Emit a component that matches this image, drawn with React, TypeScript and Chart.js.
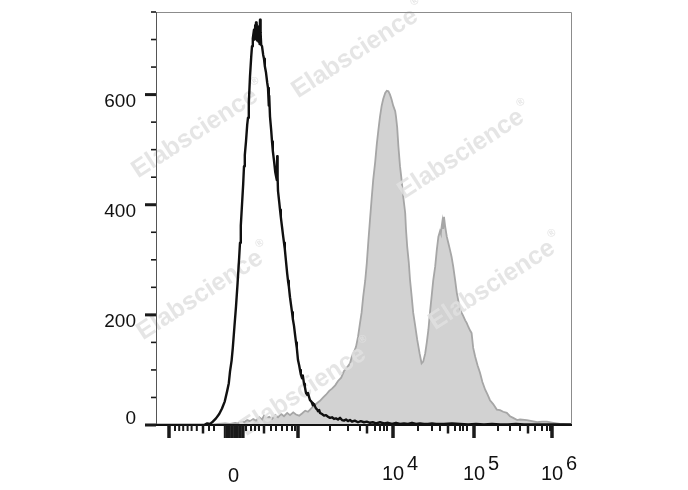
import { useEffect, useRef } from 'react';
import { Chart, registerables } from 'chart.js';

Chart.register(...registerables);

// Display channels (0..1040 across the plot) and event counts
const blackChannels = [0, 60, 120, 128, 135, 142, 150, 158, 165, 172, 178, 182, 185, 189, 192, 196, 200, 204, 208, 210, 212, 215, 218, 220, 222, 225, 228, 230, 232, 235, 238, 240, 242, 245, 247, 248, 249, 250, 251, 252, 253, 254, 255, 256, 257, 258, 259, 260, 261, 262, 263, 265, 268, 270, 272, 275, 278, 280, 282, 283, 285, 288, 290, 292, 295, 298, 300, 302, 303, 304, 305, 308, 310, 312, 315, 318, 320, 322, 325, 328, 330, 332, 335, 338, 340, 342, 345, 348, 350, 352, 355, 358, 360, 362, 365, 367, 370, 372, 375, 378, 380, 383, 385, 388, 390, 392, 395, 398, 400, 403, 405, 408, 410, 415, 420, 425, 430, 435, 440, 445, 450, 455, 460, 465, 470, 475, 480, 485, 490, 497, 505, 512, 520, 527, 535, 542, 550, 560, 570, 580, 590, 600, 610, 620, 630, 640, 650, 660, 670, 680, 690, 700, 720, 740, 760, 780, 800, 820, 840, 860, 880, 900, 920, 940, 960, 980, 1000, 1040];
const blackCounts = [0, 0, 0, 3, 2, 6, 12, 20, 30, 43, 62, 76, 97, 117, 140, 178, 215, 258, 305, 331, 362, 400, 438, 470, 490, 515, 545, 558, 585, 633, 668, 688, 702, 718, 700, 726, 705, 731, 708, 727, 698, 724, 703, 719, 696, 714, 692, 736, 700, 712, 690, 688, 672, 665, 652, 640, 622, 612, 580, 598, 560, 535, 515, 498, 480, 460, 452, 445, 488, 450, 425, 405, 391, 378, 360, 342, 331, 320, 297, 275, 262, 252, 232, 216, 205, 193, 180, 162, 150, 140, 118, 108, 100, 92, 85, 90, 75, 70, 58, 55, 58, 50, 45, 43, 40, 36, 38, 33, 30, 28, 25, 27, 22, 20, 17, 18, 15, 13, 14, 11, 12, 10, 13, 9, 8, 10, 7, 9, 6, 8, 5, 7, 5, 6, 4, 5, 3, 5, 3, 4, 2, 4, 2, 3, 2, 4, 2, 3, 2, 2, 3, 2, 2, 3, 2, 1, 2, 1, 2, 1, 1, 2, 1, 1, 1, 1, 1, 1];

const greyChannels = [0, 135, 155, 173, 185, 198, 205, 213, 220, 228, 235, 243, 250, 258, 265, 270, 275, 283, 290, 298, 305, 313, 320, 328, 335, 343, 350, 358, 365, 373, 380, 388, 395, 403, 410, 418, 425, 433, 440, 448, 455, 463, 470, 478, 485, 490, 495, 500, 505, 510, 514, 518, 523, 527, 531, 535, 539, 543, 548, 552, 556, 560, 564, 568, 573, 577, 581, 585, 589, 593, 598, 600, 603, 606, 610, 614, 618, 623, 625, 628, 632, 635, 639, 643, 648, 653, 659, 664, 668, 673, 677, 681, 685, 689, 693, 698, 702, 706, 710, 712, 714, 716, 718, 720, 723, 727, 731, 735, 739, 743, 748, 752, 756, 760, 764, 768, 773, 777, 781, 785, 789, 793, 798, 804, 810, 816, 823, 829, 835, 843, 852, 860, 868, 877, 885, 893, 903, 910, 927, 940, 953, 965, 977, 993, 1010, 1025, 1040];
const greyCounts = [0, 0, 2, 3, 2, 4, 3, 6, 5, 9, 7, 11, 8, 14, 10, 17, 12, 15, 11, 18, 14, 20, 16, 22, 18, 23, 19, 17, 21, 26, 24, 30, 35, 40, 44, 50, 55, 62, 66, 72, 80, 86, 98, 105, 112, 125, 133, 142, 160, 185, 204, 233, 262, 294, 335, 373, 410, 445, 478, 510, 536, 560, 579, 592, 603, 607, 606, 600, 591, 580, 570, 560, 540, 506, 470, 445, 415, 385, 355, 324, 295, 264, 235, 204, 180, 155, 130, 112, 115, 130, 150, 173, 205, 233, 262, 288, 318, 342, 352, 348, 360, 370, 356, 378, 360, 342, 330, 318, 305, 288, 262, 240, 225, 212, 204, 198, 190, 185, 178, 172, 167, 140, 124, 108, 95, 78, 64, 55, 45, 38, 28, 27, 24, 22, 16, 13, 9, 10, 9, 7, 5, 6, 6, 4, 2, 1, 0];

// Y axis ticks (counts)
const yMajorValues = [0, 200, 400, 600];
const yMajorLabels = ['0', '200', '400', '600'];
const yMinorValues = [50, 100, 150, 250, 300, 350, 450, 500, 550, 650, 700, 750];

// X axis ticks (display channels)
const xMajorChannels = [32.5, 355, 592.5, 795, 990];
const xMediumChannels = [117.5, 270, 527.5, 730, 930];
const xMinorChannels = [47.5, 58, 68, 79, 89, 102, 132.5, 145, 225, 237.5, 247.5, 257.5, 287.5, 300, 315, 327.5, 340, 347.5, 435, 480, 510, 547.5, 560, 570, 577.5, 655, 690, 710, 747.5, 760, 767.5, 777.5, 855, 885, 910, 947.5, 965, 977.5, 985];
const xDenseChannels = [172, 176, 180, 184, 188, 192, 196, 200, 204, 208, 212, 216, 219];
const xLabelChannels = [193.75, 592.5, 795, 990];
const xLabelBase = ['0', '10', '10', '10'];
const xLabelExp = ['', '4', '5', '6'];

const watermarkSpots = [
  [360, 50],
  [200, 130],
  [466, 151],
  [205, 292],
  [497, 282],
  [308, 388],
];

const FONT = '"Liberation Sans", Arial, Helvetica, sans-serif';

function drawWatermarks(chart: any) {
  const ctx = chart.ctx as CanvasRenderingContext2D;
  ctx.save();
  for (const [cx, cy] of watermarkSpots) {
    ctx.save();
    ctx.translate(cx, cy);
    ctx.rotate((-33 * Math.PI) / 180);
    ctx.fillStyle = 'rgba(224,224,224,0.85)';
    ctx.font = `bold 25px ${FONT}`;
    ctx.textAlign = 'center';
    ctx.textBaseline = 'middle';
    const w = ctx.measureText('Elabscience').width;
    ctx.fillText('Elabscience', -6, 0);
    ctx.font = `bold 11px ${FONT}`;
    ctx.textAlign = 'left';
    ctx.fillText('®', w / 2 - 4, -11);
    ctx.restore();
  }
  ctx.restore();
}

const flowAxesPlugin = {
  id: 'flowAxes',
  beforeDatasetDraw(chart: any, args: any) {
    if (args.index === 0) drawWatermarks(chart);
  },
  afterDatasetsDraw(chart: any) {
    const ctx = chart.ctx as CanvasRenderingContext2D;
    const { left, right, top, bottom } = chart.chartArea;
    const xs = chart.scales.x;
    const ys = chart.scales.y;
    ctx.save();
    // frame top/right
    ctx.strokeStyle = '#8c8c8c';
    ctx.lineWidth = 1;
    ctx.beginPath();
    ctx.moveTo(left, top + 0.5);
    ctx.lineTo(right - 0.5, top + 0.5);
    ctx.lineTo(right - 0.5, bottom);
    ctx.stroke();
    // y axis line
    ctx.strokeStyle = '#555';
    ctx.beginPath();
    ctx.moveTo(left + 0.5, top);
    ctx.lineTo(left + 0.5, bottom);
    ctx.stroke();
    // x axis line
    ctx.strokeStyle = '#111';
    ctx.lineWidth = 2.2;
    ctx.beginPath();
    ctx.moveTo(left, bottom);
    ctx.lineTo(right, bottom);
    ctx.stroke();

    // y ticks
    ctx.strokeStyle = '#1a1a1a';
    for (const v of yMinorValues) {
      const py = ys.getPixelForValue(v);
      ctx.lineWidth = 1.6;
      ctx.beginPath();
      ctx.moveTo(left - 5, py);
      ctx.lineTo(left, py);
      ctx.stroke();
    }
    for (const v of yMajorValues) {
      const py = ys.getPixelForValue(v);
      ctx.lineWidth = 3;
      ctx.beginPath();
      ctx.moveTo(left - 11, py);
      ctx.lineTo(left, py);
      ctx.stroke();
    }
    // x ticks
    const xTick = (ch: number, len: number, w: number) => {
      const px = xs.getPixelForValue(ch);
      ctx.lineWidth = w;
      ctx.beginPath();
      ctx.moveTo(px, bottom);
      ctx.lineTo(px, bottom + len);
      ctx.stroke();
    };
    xMinorChannels.forEach((c) => xTick(c, 6, 2));
    xMediumChannels.forEach((c) => xTick(c, 8.5, 2.5));
    xDenseChannels.forEach((c) => xTick(c, 13, 2));
    xMajorChannels.forEach((c) => xTick(c, 13, 3.5));

    // y labels
    ctx.fillStyle = '#111';
    ctx.font = `19px ${FONT}`;
    ctx.textAlign = 'right';
    ctx.textBaseline = 'middle';
    yMajorValues.forEach((v, i) => {
      const py = ys.getPixelForValue(v) + (v === 0 ? -6 : 7);
      ctx.fillText(yMajorLabels[i], 136, py);
    });
    // x labels
    ctx.textBaseline = 'alphabetic';
    xLabelChannels.forEach((c, i) => {
      const px = xs.getPixelForValue(c);
      ctx.font = `20px ${FONT}`;
      const base = xLabelBase[i];
      const w = ctx.measureText(base).width;
      ctx.textAlign = 'left';
      if (!xLabelExp[i]) {
        ctx.fillText(base, px - w / 2, 482);
      } else {
        ctx.fillText(base, px - w / 2, 480);
        ctx.font = `20px ${FONT}`;
        ctx.fillText(xLabelExp[i], px + w / 2 + 3, 470);
      }
    });
    ctx.restore();
  },
};

export default function App() {
  const canvasRef = useRef<HTMLCanvasElement | null>(null);

  useEffect(() => {
    const canvas = canvasRef.current;
    if (!canvas) return;
    const chart = new Chart(canvas, {
      type: 'line',
      data: {
        datasets: [
          {
            label: 'Control',
            data: blackChannels.map((c, i) => ({ x: c, y: blackCounts[i] })),
            borderColor: '#101010',
            borderWidth: 2.4,
            borderJoinStyle: 'round',
            pointRadius: 0,
            fill: false,
            tension: 0,
            order: 0,
          },
          {
            label: 'Stained',
            data: greyChannels.map((c, i) => ({ x: c, y: greyCounts[i] })),
            borderColor: '#a6a6a6',
            backgroundColor: '#d2d2d2',
            borderWidth: 1.8,
            pointRadius: 0,
            fill: 'origin',
            tension: 0,
            order: 1,
          },
        ],
      },
      options: {
        animation: false,
        responsive: false,
        events: [],
        layout: { padding: { top: 12, right: 116, bottom: 0, left: 0 } },
        plugins: { legend: { display: false }, tooltip: { enabled: false } },
        scales: {
          x: {
            type: 'linear',
            min: 0,
            max: 1040,
            grid: { display: false, drawTicks: false },
            border: { display: false },
            ticks: { display: false },
            afterFit: (s: any) => {
              s.height = 65;
            },
          },
          y: {
            min: 0,
            max: 750,
            grid: { display: false, drawTicks: false },
            border: { display: false },
            ticks: { display: false },
            afterFit: (s: any) => {
              s.width = 156;
            },
          },
        },
      } as any,
      plugins: [flowAxesPlugin as any],
    });
    return () => chart.destroy();
  }, []);

  return (
    <div style={{ position: 'absolute', left: 0, top: 0, width: 688, height: 490, background: '#fff' }}>
      <canvas ref={canvasRef} width={688} height={490} style={{ display: 'block' }} />
    </div>
  );
}
